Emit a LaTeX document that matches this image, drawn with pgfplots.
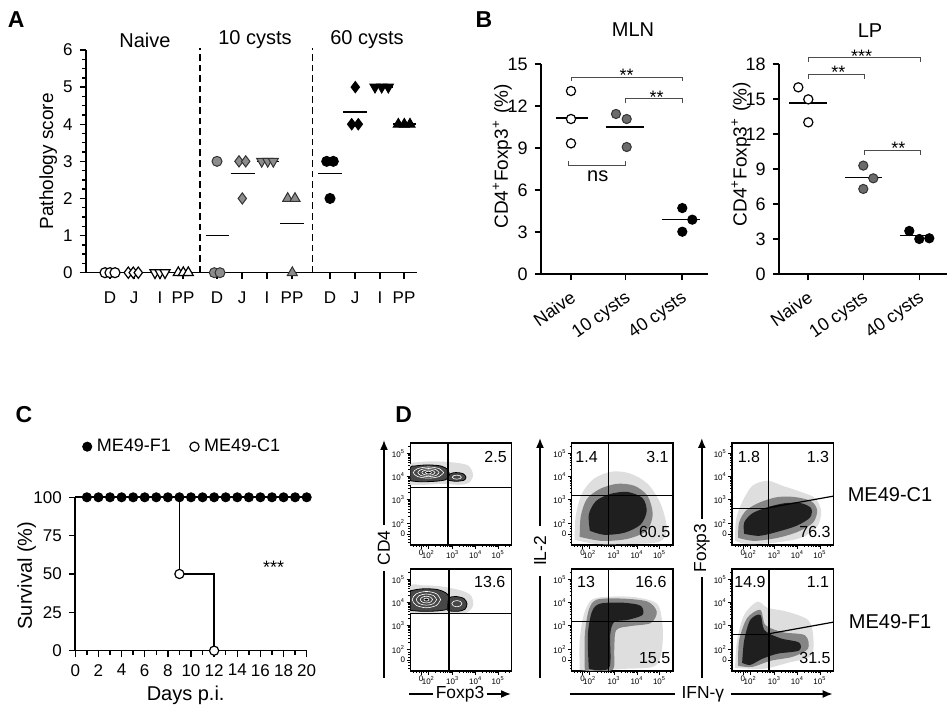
\documentclass[border=0pt]{standalone}
\usepackage{fontspec}
\setmainfont{Liberation Sans}
\usepackage{pgfplots}
\pgfplotsset{compat=1.18}
\usetikzlibrary{arrows.meta}
\definecolor{gA}{gray}{0.55}
\definecolor{gB}{gray}{0.42}
\definecolor{brk}{gray}{0.3}
\newcommand\fs[1]{\fontsize{#1}{#1}\selectfont}
\newcommand\sx[1]{\textsuperscript{#1}}
\tikzset{brkt/.style={brk, line width=0.5pt}, num/.style={font=\fs{8}}}
\pgfplotsset{
  base/.style={scale only axis, anchor=south west, clip=false,
    axis x line*=bottom, axis y line*=left,
    axis line style={line width=0.8pt},
    tick style={black, line width=0.7pt},
    tick align=outside, major tick length=3.2pt, minor tick length=2pt,
    /pgf/number format/assume math mode=true,
    tick label style={font=\fs{8.5}},
    label style={font=\fs{9.5}}},
  flow/.style={scale only axis, anchor=south west, width=50.7pt, height=51pt,
    xmin=0, xmax=100, ymin=0, ymax=100,
    axis line style={line width=0.7pt},
    tick style={black, line width=0.3pt},
    tick align=outside, major tick length=1.8pt, minor tick length=1pt,
    xtick pos=bottom, ytick pos=left,
    xtick={10.8,17.9,41.9,64.5,86.7},
    ytick={10.8,21.1,44.9,67.4,89.6},
    xticklabels={0,10\sx{2},10\sx{3},10\sx{4},10\sx{5}},
    yticklabels={0,10\sx{2},10\sx{3},10\sx{4},10\sx{5}},
    minor xtick={3,6,8.5,13,15.5,25.1,29.4,32.4,34.7,36.6,38.2,39.6,40.8,48.7,52.6,55.4,57.6,59.4,60.9,62.2,63.4,71.3,75.2,78,80.2,82,83.5,84.8,86,93.5,97.4},
    minor ytick={3,6,8.5,13.5,16,18.5,28.3,32.5,35.4,37.7,39.6,41.2,42.6,43.8,51.7,55.6,58.4,60.6,62.4,63.9,65.2,66.4,74.2,78.1,80.9,83.1,84.9,86.4,87.7,88.9,96.4},
    /pgf/number format/assume math mode=true,
    tick label style={font=\fs{4}, inner sep=0.6pt}},
  sparse/.style={fill=black!13, draw=none, smooth, forget plot},
  mid/.style={fill=black!48, draw=none, smooth, forget plot},
  dense/.style={fill=black!88, draw=none, smooth, forget plot},
  blob/.style={fill=black!72, draw=black, line width=0.4pt, smooth, forget plot},
  cont/.style={draw=white, line width=0.3pt, smooth, forget plot},
  gate/.style={black, line width=0.6pt, forget plot},
  mean/.style={black, line width=0.8pt, forget plot},
  wmk/.style={only marks, mark options={fill=white, draw=black, line width=0.6pt}},
  gAmk/.style={only marks, mark options={fill=gA, draw=black!80, line width=0.5pt}},
  gBmk/.style={only marks, mark options={fill=gB, draw=black!80, line width=0.5pt}},
  kmk/.style={only marks, mark options={fill=black, draw=black, line width=0.5pt}},
  down/.style={mark=triangle*, mark size=2.9pt, every mark/.append style={rotate=180}},
}
\begin{document}
\begin{tikzpicture}
\useasboundingbox (0,0) rectangle (474pt,361pt);

% ---------------- Panel A ----------------
\begin{axis}[base, at={(43pt,224.65pt)}, width=165.5pt, height=111.35pt,
  xmin=86, xmax=417, ymin=0, ymax=6,
  xtick={110,134,160,183,217,242,267,292,330,355,380,404},
  xticklabels={D,J,I,PP,D,J,I,PP,D,J,I,PP},
  xticklabel style={yshift=-3pt},
  ytick={0,1,...,6}, minor y tick num=3,
  ylabel={Pathology score},
  ylabel style={at={(axis description cs:-0.114,0.5)}, anchor=center}]
\draw[black, line width=0.8pt, dash pattern=on 3.3pt off 2pt] (axis cs:200,0) -- (axis cs:200,6.05);
\draw[black, line width=0.8pt, dash pattern=on 3.3pt off 2pt] (axis cs:312.3,0) -- (axis cs:312.3,6.05);
% Naive
\addplot[wmk, mark=*, mark size=2.5pt] coordinates {(105,0) (110,0) (115,0)};
\addplot[wmk, mark=diamond*, mark size=2.8pt] coordinates {(128.3,0) (133.3,0) (138.3,0)};
\addplot[wmk, down] coordinates {(155,0) (160,0) (165,0)};
\addplot[wmk, mark=triangle*, mark size=2.9pt] coordinates {(178.3,0) (183.3,0) (188.3,0)};
% 10 cysts
\addplot[gAmk, mark=*, mark size=2.5pt] coordinates {(217,3) (214.3,0) (220,0)};
\addplot[gAmk, mark=diamond*, mark size=2.8pt] coordinates {(239,3) (245.7,3) (242.3,2)};
\addplot[gAmk, down] coordinates {(261.7,3) (267.7,3) (273.3,3)};
\addplot[gAmk, mark=triangle*, mark size=2.9pt] coordinates {(287.7,2) (295,2) (292.3,0)};
% 60 cysts
\addplot[kmk, mark=*, mark size=2.5pt] coordinates {(326.7,3) (333.3,3) (330,2)};
\addplot[kmk, mark=diamond*, mark size=2.8pt] coordinates {(355.3,5) (351.7,4) (358.3,4)};
\addplot[kmk, down] coordinates {(375,5) (381.7,5) (388.3,5)};
\addplot[kmk, mark=triangle*, mark size=2.9pt] coordinates {(398.3,4) (404.3,4) (410,4)};
% means
\addplot[mean] coordinates {(205.7,1) (229,1)};
\addplot[mean] coordinates {(230.7,2.67) (254.7,2.67)};
\addplot[mean] coordinates {(256.7,3) (279,3)};
\addplot[mean] coordinates {(280,1.33) (304,1.33)};
\addplot[mean] coordinates {(318.3,2.67) (341.7,2.67)};
\addplot[mean] coordinates {(343,4.33) (367,4.33)};
\addplot[mean] coordinates {(371.7,5) (392.7,5)};
\addplot[mean] coordinates {(393.3,4) (416,4)};
\node[font=\fs{10}] at (axis cs:145,6.27) {Naive};
\node[font=\fs{10}] at (axis cs:255,6.27) {10 cysts};
\node[font=\fs{10}] at (axis cs:367,6.27) {60 cysts};
\end{axis}

% ---------------- Panel B : MLN ----------------
\begin{axis}[base, at={(270.5pt,224pt)}, width=83.5pt, height=105pt,
  xmin=541, xmax=708, ymin=0, ymax=15, ytick={0,3,...,15},
  tick label style={font=\fs{9}},
  xtick={571,625.7,682}, xticklabels={Naive,10 cysts,40 cysts},
  xticklabel style={rotate=35, anchor=north east, font=\fs{9}},
  ylabel={CD4\sx{+}Foxp3\sx{+}\,\,(\%)},
  ylabel style={at={(axis description cs:-0.232,0.56)}, anchor=center}]
\addplot[wmk, mark=*, mark size=2.3pt] coordinates {(571,13.07) (571,11.07) (571,9.33)};
\addplot[gBmk, mark=*, mark size=2.3pt] coordinates {(616,11.43) (626.7,11.07) (626.7,9.07)};
\addplot[kmk, mark=*, mark size=2.3pt] coordinates {(682.3,4.71) (692.3,3.88) (682.3,3.02)};
\addplot[mean] coordinates {(556,11.14) (588.3,11.14)};
\addplot[mean] coordinates {(605.7,10.52) (644,10.52)};
\addplot[mean] coordinates {(661.7,3.88) (700,3.88)};
\draw[brkt] (axis cs:571,13.79) -- (axis cs:571,14.07) -- (axis cs:682.7,14.07) -- (axis cs:682.7,13.79);
\node[anchor=base, font=\fs{9}, inner sep=0pt] at (axis cs:626.7,13.78) {**};
\draw[brkt] (axis cs:625,12.19) -- (axis cs:625,12.52) -- (axis cs:682.7,12.52) -- (axis cs:682.7,12.19);
\node[anchor=base, font=\fs{9}, inner sep=0pt] at (axis cs:656.7,12.21) {**};
\draw[brkt] (axis cs:568.7,8.05) -- (axis cs:568.7,7.74) -- (axis cs:625,7.74) -- (axis cs:625,8.05);
\node[font=\fs{10}] at (axis cs:597.7,7.0) {ns};
\node[font=\fs{10}] at (axis cs:633,17.43) {MLN};
\end{axis}

% ---------------- Panel B : LP ----------------
\begin{axis}[base, at={(389.5pt,224pt)}, width=84pt, height=105pt,
  xmin=779, xmax=947, ymin=0, ymax=18, ytick={0,3,...,18},
  tick label style={font=\fs{9}},
  xtick={808,863.3,919.3}, xticklabels={Naive,10 cysts,40 cysts},
  xticklabel style={rotate=35, anchor=north east, font=\fs{9}},
  ylabel={CD4\sx{+}Foxp3\sx{+}\,\,(\%)},
  ylabel style={at={(axis description cs:-0.226,0.571)}, anchor=center}]
\addplot[wmk, mark=*, mark size=2.3pt] coordinates {(798.3,16.0) (808.3,14.97) (808.3,13.0)};
\addplot[gBmk, mark=*, mark size=2.3pt] coordinates {(863.3,9.29) (873.3,8.2) (863.3,7.29)};
\addplot[kmk, mark=*, mark size=2.3pt] coordinates {(909.3,3.69) (919.3,3.0) (929.3,3.06)};
\addplot[mean] coordinates {(789.3,14.66) (826.7,14.66)};
\addplot[mean] coordinates {(845,8.26) (881.7,8.26)};
\addplot[mean] coordinates {(900,3.29) (928.3,3.29)};
\draw[brkt] (axis cs:808.3,18.2) -- (axis cs:808.3,18.57) -- (axis cs:920,18.57) -- (axis cs:920,18.2);
\node[anchor=base, font=\fs{9}, inner sep=0pt] at (axis cs:861.7,18.16) {***};
\draw[brkt] (axis cs:808.3,16.74) -- (axis cs:808.3,17.14) -- (axis cs:864.3,17.14) -- (axis cs:864.3,16.74);
\node[anchor=base, font=\fs{9}, inner sep=0pt] at (axis cs:838.3,16.74) {**};
\draw[brkt] (axis cs:864.3,10.2) -- (axis cs:864.3,10.57) -- (axis cs:920,10.57) -- (axis cs:920,10.2);
\node[anchor=base, font=\fs{9}, inner sep=0pt] at (axis cs:898.3,10.23) {**};
\node[font=\fs{10}] at (axis cs:870,20.9) {LP};
\end{axis}

% ---------------- Panel C ----------------
\begin{axis}[base, at={(37.65pt,35.65pt)}, width=115.7pt, height=76.7pt,
  xmin=0, xmax=20, ymin=0, ymax=100,
  xtick={0,2,...,20}, minor x tick num=1,
  ytick={0,25,50,75,100},
  tick label style={font=\fs{8.5}},
  label style={font=\fs{10}},
  xlabel={Days p.i.}, ylabel={Survival (\%)},
  xlabel style={at={(axis description cs:0.477,-0.29)}, anchor=center},
  ylabel style={at={(axis description cs:-0.21,0.49)}, anchor=center},
  legend image code/.code={\draw[#1] plot coordinates {(0pt,0pt)};},
  legend style={at={(axis description cs:0.03,1.33)}, anchor=west, draw=none, fill=none,
    legend columns=2, font=\fs{9}, inner sep=0pt, nodes={inner xsep=2.5pt, inner ysep=1pt},
    /tikz/every even column/.append style={column sep=7pt}}]
\addplot[black, line width=0.8pt, forget plot] coordinates {(0,100) (20,100)};
\addplot[black, line width=0.8pt, forget plot] coordinates {(0,100) (9,100) (9,50) (12,50) (12,0) (20,0)};
\addplot[only marks, mark=*, mark size=2.3pt, black]
  coordinates {(1,100) (2,100) (3,100) (4,100) (5,100) (6,100) (7,100) (8,100) (9,100) (10,100)
               (11,100) (12,100) (13,100) (14,100) (15,100) (16,100) (17,100) (18,100) (19,100) (20,100)};
\addlegendentry{ME49-F1}
\addplot[only marks, mark=*, mark size=2.3pt, black, mark options={fill=white, line width=0.6pt}]
  coordinates {(9,50) (12,0)};
\addlegendentry{ME49-C1}
\node[anchor=base, font=\fs{9}, inner sep=0pt] at (axis cs:17.15,50.6) {***};
\end{axis}

% ---------------- Panel D ----------------
% P1: C1, CD4 vs Foxp3
\begin{axis}[flow, at={(205.1pt,88.5pt)}]
\addplot[sparse] coordinates {(0,59) (15,59) (32,60) (48,59) (58,61) (62,69) (57,78) (42,81) (22,82) (6,81) (0,79) (0,59)};
\addplot[blob] coordinates {(0,63) (10,62) (25,62.5) (35,64) (38.5,68) (37,74) (30,77.5) (17,78.5) (5,77.5) (0,76) (0,63)};
\addplot[blob] coordinates {(37,63.5) (45,62.5) (53,63.5) (55,66.5) (52,70) (45,71) (39,69.5) (37,63.5)};
\addplot[cont] coordinates {(33,71) (28.6,74.9) (18,76.5) (7.4,74.9) (3,71) (7.4,67.1) (18,65.5) (28.6,67.1) (33,71)};
\addplot[cont] coordinates {(28.5,71) (25.5,73.8) (18,75) (10.5,73.8) (7.5,71) (10.5,68.2) (18,67) (25.5,68.2) (28.5,71)};
\addplot[cont] coordinates {(24.5,71) (22.6,72.8) (18,73.6) (13.4,72.8) (11.5,71) (13.4,69.2) (18,68.4) (22.6,69.2) (24.5,71)};
\addplot[cont, fill=black] coordinates {(21,71) (20.1,71.9) (18,72.3) (15.9,71.9) (15,71) (15.9,70.1) (18,69.7) (20.1,70.1) (21,71)};
\addplot[cont] coordinates {(50.5,66.5) (49.2,67.9) (46,68.5) (42.8,67.9) (41.5,66.5) (42.8,65.1) (46,64.5) (49.2,65.1) (50.5,66.5)};
\addplot[gate] coordinates {(37.3,0) (37.3,100)};
\addplot[gate] coordinates {(0,56.4) (100,56.4)};
\node[num] at (axis cs:84.2,86.3) {2.5};
\end{axis}
% P4: F1, CD4 vs Foxp3
\begin{axis}[flow, at={(205.1pt,25.5pt)}]
\addplot[sparse] coordinates {(0,56) (18,55.5) (38,56) (55,57) (62,64) (60,74) (50,79) (30,83) (12,84) (0,83) (0,56)};
\addplot[blob] coordinates {(0,59.5) (12,58.5) (28,59) (37,61) (39.5,68) (36,76) (26,80) (12,80.5) (2,79) (0,77) (0,59.5)};
\addplot[blob] coordinates {(37,59) (47,58.5) (54,60.5) (56,66) (53,71) (45,73) (38,71) (37,59)};
\addplot[cont] coordinates {(30,70) (25.9,75.7) (16,78) (6.1,75.7) (2,70) (6.1,64.3) (16,62) (25.9,64.3) (30,70)};
\addplot[cont] coordinates {(26,70) (23.1,73.9) (16,75.5) (8.9,73.9) (6,70) (8.9,66.1) (16,64.5) (23.1,66.1) (26,70)};
\addplot[cont] coordinates {(22,70) (20.3,72.3) (16,73.3) (11.7,72.3) (10,70) (11.7,67.7) (16,66.7) (20.3,67.7) (22,70)};
\addplot[cont, fill=black] coordinates {(18.5,70) (17.8,71) (16,71.4) (14.2,71) (13.5,70) (14.2,69) (16,68.6) (17.8,69) (18.5,70)};
\addplot[cont] coordinates {(51,66) (49.5,68.1) (46,69) (42.5,68.1) (41,66) (42.5,63.9) (46,63) (49.5,63.9) (51,66)};
\addplot[gate] coordinates {(38.3,0) (38.3,100)};
\addplot[gate] coordinates {(0,56.7) (100,56.7)};
\node[num] at (axis cs:78.5,86.8) {13.6};
\end{axis}
% P2: C1, IL-2 vs IFN-g
\begin{axis}[flow, at={(285.8pt,88.5pt)}]
\addplot[sparse] coordinates {(3,5) (4,28) (10,50) (22,65) (40,72) (58,70) (75,60) (88,40) (94,15) (86,3) (55,1) (25,1) (3,5)};
\addplot[mid] coordinates {(8,8) (9,28) (15,45) (28,55) (45,60) (62,58) (75,48) (80,30) (74,14) (55,6) (30,4) (8,8)};
\addplot[dense] coordinates {(18,14) (17,30) (24,43) (38,50) (55,52) (70,46) (74,33) (68,20) (52,12) (32,10) (18,14)};
\addplot[gate] coordinates {(36.7,0) (36.7,100)};
\addplot[gate] coordinates {(0,48.2) (100,48.2)};
\node[num] at (axis cs:14.8,86.3) {1.4};
\node[num] at (axis cs:84.7,86.3) {3.1};
\node[num] at (axis cs:81.9,13.0) {60.5};
\end{axis}
% P5: F1, IL-2 vs IFN-g
\begin{axis}[flow, at={(285.8pt,25.5pt)}]
\addplot[sparse] coordinates {(8,1) (8,30) (12,55) (20,70) (40,73) (65,72) (85,65) (90,40) (88,15) (80,4) (50,2) (25,0) (8,1)};
\addplot[mid] coordinates {(13,1) (13,35) (17,60) (25,70) (50,71) (75,68) (84,58) (78,47) (58,44) (44,40) (42,20) (40,1) (13,1)};
\addplot[dense] coordinates {(17,2) (16,35) (20,58) (28,66) (50,67) (68,64) (70,55) (55,50) (42,48) (38,35) (37,3) (17,2)};
\addplot[gate] coordinates {(36.7,0) (36.7,100)};
\addplot[gate] coordinates {(0,48.5) (100,48.5)};
\node[num] at (axis cs:14.2,86.8) {13};
\node[num] at (axis cs:78.2,86.8) {16.6};
\node[num] at (axis cs:81.9,12.5) {15.5};
\end{axis}
% P3: C1, Foxp3 vs IFN-g
\begin{axis}[flow, at={(366pt,88.5pt)}]
\addplot[sparse] coordinates {(3,4) (4,25) (10,42) (20,58) (35,63) (50,58) (68,52) (82,46) (88,33) (84,18) (68,7) (40,2) (15,1) (3,4)};
\addplot[mid] coordinates {(6,7) (7,22) (14,34) (28,42) (45,47) (62,47) (78,43) (84,34) (80,22) (65,13) (45,7) (22,4) (6,7)};
\addplot[dense] coordinates {(12,11) (12,22) (20,31) (35,37) (52,41) (68,41) (78,36) (77,27) (64,19) (45,13) (27,9) (12,11)};
\addplot[gate] coordinates {(35.7,0) (35.7,100)};
\addplot[gate] coordinates {(0,35.9) (35.7,35.9)};
\addplot[gate] coordinates {(35.7,36.5) (100,47.9)};
\node[num] at (axis cs:16.7,86.3) {1.8};
\node[num] at (axis cs:84.7,86.3) {1.3};
\node[num] at (axis cs:81.8,13.0) {76.3};
\end{axis}
% P6: F1, Foxp3 vs IFN-g
\begin{axis}[flow, at={(366pt,25.5pt)}]
\addplot[sparse] coordinates {(3,3) (5,30) (12,55) (25,68) (35,62) (55,58) (75,50) (80,35) (78,15) (55,8) (30,2) (3,3)};
\addplot[mid] coordinates {(6,5) (7,30) (15,52) (28,60) (33,45) (50,38) (72,35) (75,22) (60,14) (38,10) (20,4) (6,5)};
\addplot[dense] coordinates {(10,8) (12,30) (18,50) (28,55) (32,40) (48,32) (66,28) (66,20) (45,17) (30,12) (18,6) (10,8)};
\addplot[gate] coordinates {(36.4,0) (36.4,100)};
\addplot[gate] coordinates {(0,35.4) (36.4,35.4)};
\addplot[gate] coordinates {(36.4,36.5) (100,47.9)};
\node[num] at (axis cs:17.8,86.8) {14.9};
\node[num] at (axis cs:84.7,86.8) {1.1};
\node[num] at (axis cs:81.8,12.5) {31.5};
\end{axis}

% ---------------- free labels (pixel coordinates) ----------------
\begin{scope}[x=0.5pt, y=-0.5pt, shift={(0pt,361pt)}]
\node[font=\bfseries\fs{11.5}] at (16.3,20) {A};
\node[font=\bfseries\fs{11.5}] at (484,20) {B};
\node[font=\bfseries\fs{11.5}] at (24,415) {C};
\node[font=\bfseries\fs{11.5}] at (403.6,415) {D};
\draw[line width=0.8pt, -{Latex[length=5pt,width=4pt]}] (384,678) -- (384,440);
\node[fill=white, rotate=90, font=\fs{8.7}, inner xsep=3pt, inner ysep=1pt] at (384,548) {CD4};
\draw[line width=0.8pt, -{Latex[length=5pt,width=4pt]}] (540,678) -- (540,438);
\node[fill=white, rotate=90, font=\fs{8.7}, inner xsep=5pt, inner ysep=1pt] at (540,551) {IL-2};
\draw[line width=0.8pt, -{Latex[length=5pt,width=4pt]}] (701.8,678) -- (701.8,438);
\node[fill=white, rotate=90, font=\fs{8.7}, inner xsep=2.4pt, inner ysep=1pt] at (701.8,548) {Foxp3};
\draw[line width=0.8pt, -{Latex[length=5pt,width=4pt]}] (409,694) -- (511,694);
\node[fill=white, font=\fs{8.7}, inner xsep=1.5pt, inner ysep=1pt] at (460,694) {Foxp3};
\draw[line width=0.8pt, -{Latex[length=5pt,width=4pt]}] (569.8,694) -- (832.7,694);
\node[fill=white, font=\fs{8.7}, inner xsep=3.5pt, inner ysep=1pt] at (702.8,694) {IFN-γ};
\node[font=\fs{10}] at (890,495) {ME49-C1};
\node[font=\fs{10}] at (890,621.7) {ME49-F1};
\end{scope}
\end{tikzpicture}
\end{document}
